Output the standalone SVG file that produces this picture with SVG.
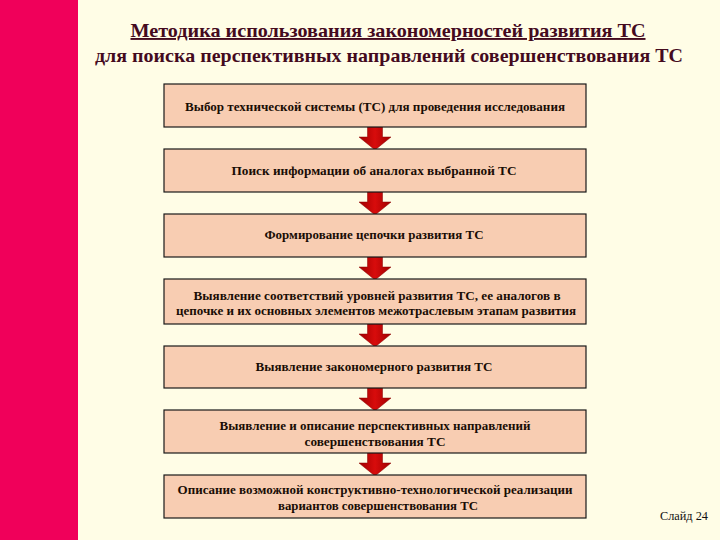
<svg xmlns="http://www.w3.org/2000/svg" width="720" height="540" viewBox="0 0 720 540">
<defs>
<style>
.title{font-family:"Liberation Serif","DejaVu Serif",serif;font-weight:bold;font-size:19px;fill:#440a1e;text-anchor:middle}
.box{fill:#f8cdb2;stroke:#1a1a1a;stroke-width:1.2}
.lbl{font-family:"Liberation Serif","DejaVu Serif",serif;font-weight:bold;font-size:13px;fill:#1a0d05;text-anchor:middle}
.arrow{fill:url(#ag);stroke:#8a0000;stroke-width:0.5}
</style>
<linearGradient id="ag" x1="0" y1="0" x2="1" y2="0">
<stop offset="0" stop-color="#a00000"/>
<stop offset="0.5" stop-color="#d80c0c"/>
<stop offset="1" stop-color="#a00000"/>
</linearGradient>
<path id="arr" d="M-7.5,0 H7.5 V10 H16 L0,23 L-16,10 H-7.5 Z"/>
</defs>
<rect width="720" height="540" fill="#fffde6"/>
<rect x="0" y="0" width="78" height="540" fill="#f0005a"/>
<g id="title">
<text class="title" x="388" y="37" text-decoration="underline" textLength="515" lengthAdjust="spacingAndGlyphs">Методика использования закономерностей развития ТС</text>
<text class="title" x="389" y="62" textLength="588" lengthAdjust="spacingAndGlyphs">для поиска перспективных направлений совершенствования ТС</text>
</g>
<g id="connectors">
<use href="#arr" class="arrow" x="375" y="127"/>
<use href="#arr" class="arrow" x="375" y="192"/>
<use href="#arr" class="arrow" x="375" y="257"/>
<use href="#arr" class="arrow" x="375" y="324"/>
<use href="#arr" class="arrow" x="375" y="388"/>
<use href="#arr" class="arrow" x="375" y="453"/>
</g>
<g id="n1"><rect class="box" x="164" y="84" width="422" height="43"/><text class="lbl" x="375" y="111" textLength="380" lengthAdjust="spacingAndGlyphs">Выбор технической системы (ТС) для проведения исследования</text></g>
<g id="n2"><rect class="box" x="164" y="149" width="422" height="43"/><text class="lbl" x="374" y="175" textLength="285" lengthAdjust="spacingAndGlyphs">Поиск информации об аналогах выбранной ТС</text></g>
<g id="n3"><rect class="box" x="164" y="214" width="422" height="43"/><text class="lbl" x="374" y="239" textLength="219" lengthAdjust="spacingAndGlyphs">Формирование цепочки развития ТС</text></g>
<g id="n4"><rect class="box" x="164" y="279" width="422" height="45"/><text class="lbl" x="377" y="300" textLength="367" lengthAdjust="spacingAndGlyphs">Выявление соответствий уровней развития ТС, ее аналогов в</text><text class="lbl" x="376" y="315" textLength="400" lengthAdjust="spacingAndGlyphs">цепочке и их основных элементов межотраслевым этапам развития</text></g>
<g id="n5"><rect class="box" x="164" y="346" width="422" height="42"/><text class="lbl" x="374" y="371" textLength="237" lengthAdjust="spacingAndGlyphs">Выявление закономерного развития ТС</text></g>
<g id="n6"><rect class="box" x="164" y="410" width="422" height="43"/><text class="lbl" x="375" y="430" textLength="311" lengthAdjust="spacingAndGlyphs">Выявление и описание перспективных направлений</text><text class="lbl" x="375" y="446" textLength="141" lengthAdjust="spacingAndGlyphs">совершенствования ТС</text></g>
<g id="n7"><rect class="box" x="164" y="475" width="422" height="43"/><text class="lbl" x="375" y="494" textLength="395" lengthAdjust="spacingAndGlyphs">Описание возможной конструктивно-технологической реализации</text><text class="lbl" x="378" y="510" textLength="200" lengthAdjust="spacingAndGlyphs">вариантов совершенствования ТС</text></g>
<text x="660" y="520" font-family="Liberation Serif, DejaVu Serif, serif" font-size="13" fill="#111" textLength="48" lengthAdjust="spacingAndGlyphs">Слайд 24</text>
</svg>
